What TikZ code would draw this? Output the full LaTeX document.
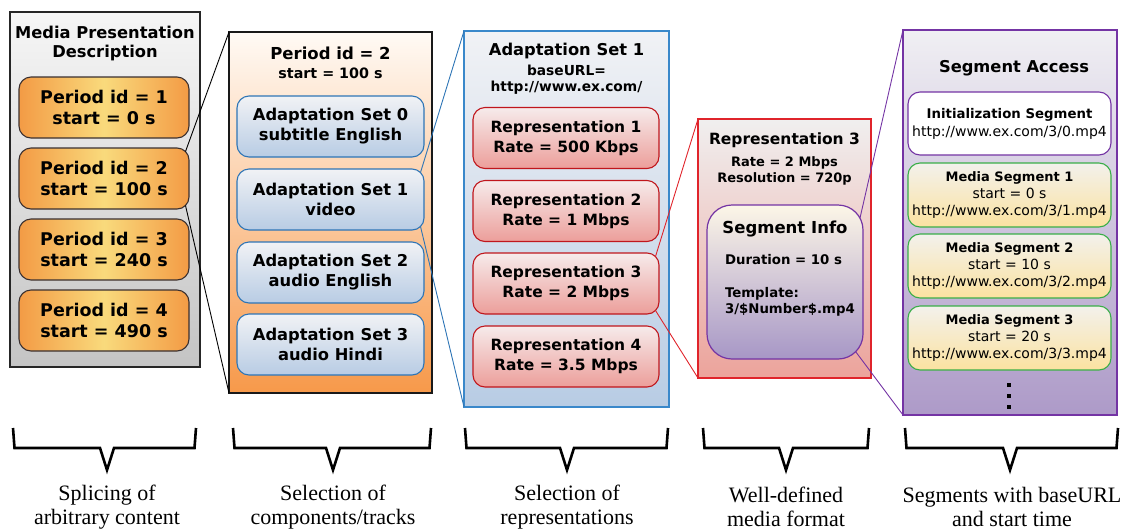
\documentclass[tikz,border=0pt]{standalone}
\usepackage{fontspec}
\setmainfont{DejaVu Sans}
\newfontfamily\captionserif{Liberation Serif}
\usetikzlibrary{calc}

\definecolor{mpdtop}{HTML}{F6F6F6}
\definecolor{mpdbot}{HTML}{C4C4C4}
\definecolor{perEdge}{HTML}{F39B45}
\definecolor{perMid}{HTML}{F9DA7C}
\definecolor{perLine}{HTML}{3A3030}
\definecolor{pbTop}{HTML}{FFFAF5}
\definecolor{pbBot}{HTML}{F7994A}
\definecolor{asTop}{HTML}{F1F2F5}
\definecolor{asBot}{HTML}{B8CCE4}
\definecolor{asLine}{HTML}{2E75B6}
\definecolor{abLine}{HTML}{3A88CA}
\definecolor{repTop}{HTML}{F6EBEB}
\definecolor{repBot}{HTML}{EC9E9A}
\definecolor{repLine}{HTML}{C0161C}
\definecolor{rbTop}{HTML}{F0EFEF}
\definecolor{rbBot}{HTML}{ECA39B}
\definecolor{rbLine}{HTML}{E0242B}
\definecolor{siTop}{HTML}{FCF6E7}
\definecolor{siBot}{HTML}{A797C6}
\definecolor{purp}{HTML}{7434A4}
\definecolor{saTop}{HTML}{F0EFF3}
\definecolor{saBot}{HTML}{AD9AC8}
\definecolor{msTop}{HTML}{F3F1EC}
\definecolor{msBot}{HTML}{FBE2A0}
\definecolor{msLine}{HTML}{3AAE48}

\newcommand{\fsz}[2]{\fontsize{#1}{#2}\selectfont}
% bottom bracket: left x, right x, tip x
\newcommand{\bracket}[3]{%
  \draw[bracketline] (#1,428) -- (#1+1.5,448) -- (#3-7,448) -- (#3,470)
    -- (#3+7,448) -- (#2-1.5,448) -- (#2,428);}

\begin{document}
\begin{tikzpicture}[x=1pt,y=-1pt,
  every node/.style={inner sep=0pt, outer sep=0pt, align=center},
  frame/.style={draw, rectangle, line width=1.3pt},
  period/.style={draw=perLine, line width=1.1pt, rounded corners=12pt,
    left color=perEdge, right color=perEdge, middle color=perMid,
    minimum width=170, minimum height=61, font=\bfseries\fsz{17.5}{21}},
  adset/.style={draw=asLine, line width=1.1pt, rounded corners=12pt,
    top color=asTop, bottom color=asBot,
    minimum width=187, minimum height=61, font=\bfseries\fsz{16.3}{20}},
  repr/.style={draw=repLine, line width=1.1pt, rounded corners=12pt,
    top color=repTop, bottom color=repBot,
    minimum width=186, minimum height=61, font=\bfseries\fsz{15.5}{20}},
  segbox/.style={line width=1.1pt, rounded corners=12pt,
    minimum width=203, minimum height=64, font=\fsz{14}{17}},
  conn/.style={line width=0.9pt},
  bracketline/.style={line width=2.6pt, line join=miter},
  caption/.style={font=\captionserif\fsz{22}{23.5}}]
\useasboundingbox (0,0) rectangle (1133,531);

% ---- Media Presentation Description ----
\node[frame, draw=black!85, top color=mpdtop, bottom color=mpdbot,
  minimum width=190, minimum height=355] (mpd) at (105,189.5) {};
\node[font=\bfseries\fsz{16.3}{19.5}] (mpdtitle) at (105,43.5)
  {Media Presentation\\Description};
\node[period] (per1) at (104,107.5) {Period id = 1\\start = 0 s};
\node[period] (per2) at (104,178.5) {Period id = 2\\start = 100 s};
\node[period] (per3) at (104,249.5) {Period id = 3\\start = 240 s};
\node[period] (per4) at (104,320.5) {Period id = 4\\start = 490 s};

% ---- Period 2 ----
\node[frame, draw=black!90, top color=pbTop, bottom color=pbBot,
  minimum width=203, minimum height=361] (pbox) at (330.5,212.5) {};
\node[font=\bfseries\fsz{16.5}{20}] (pbtitle) at (330.5,53) {Period id = 2};
\node[font=\bfseries\fsz{14.3}{17}] (pbstart) at (330.5,73.5) {start = 100 s};
\node[adset] (as0) at (330.5,126.5) {Adaptation Set 0\\subtitle English};
\node[adset] (as1) at (330.5,199.5) {Adaptation Set 1\\video};
\node[adset] (as2) at (330.5,272.5) {Adaptation Set 2\\audio English};
\node[adset] (as3) at (330.5,344.5) {Adaptation Set 3\\audio Hindi};

% ---- Adaptation Set 1 ----
\node[frame, draw=abLine, top color=asTop, bottom color=asBot,
  minimum width=205, minimum height=376] (abox) at (566.5,219) {};
\node[font=\bfseries\fsz{16.3}{20}] (abtitle) at (566.5,51) {Adaptation Set 1};
\node[font=\bfseries\fsz{13.8}{16.5}] (aburl) at (566.5,79.5)
  {baseURL=\\http://www.ex.com/};
\node[repr] (rep1) at (566,138) {Representation 1\\Rate = 500 Kbps};
\node[repr] (rep2) at (566,211) {Representation 2\\Rate = 1 Mbps};
\node[repr] (rep3) at (566,283.5) {Representation 3\\Rate = 2 Mbps};
\node[repr] (rep4) at (566,356.5) {Representation 4\\Rate = 3.5 Mbps};

% ---- Representation 3 ----
\node[frame, draw=rbLine, top color=rbTop, bottom color=rbBot,
  minimum width=173, minimum height=259] (rbox) at (784.5,248.5) {};
\node[font=\bfseries\fsz{15.5}{19}] (rbtitle) at (784.5,140) {Representation 3};
\node[font=\bfseries\fsz{13}{16}] (rbinfo) at (784.5,171)
  {Rate = 2 Mbps\\Resolution = 720p};
\node[draw=purp, line width=1.2pt, rounded corners=25pt,
  top color=siTop, bottom color=siBot,
  minimum width=156, minimum height=154] (sinfo) at (785,282) {};
\node[font=\bfseries\fsz{16.5}{20}] (sititle) at (785,229.5) {Segment Info};
\node[anchor=west, font=\bfseries\fsz{13.3}{16}] (sidur) at (725,259.5)
  {Duration = 10 s};
\node[anchor=west, align=left, font=\bfseries\fsz{13.3}{16.5}] (sitpl) at (725,302)
  {Template:\\3/\$Number\$.mp4};

% ---- Segment Access ----
\node[frame, draw=purp, top color=saTop, bottom color=saBot,
  minimum width=214, minimum height=385] (sbox) at (1010,222.5) {};
\node[font=\bfseries\fsz{16.3}{19}] (sbtitle) at (1014,68.5) {Segment Access};
\node[segbox, draw=purp, fill=white, minimum height=63] (init) at (1009.5,123.5)
  {{\bfseries\fsz{13.3}{17}Initialization Segment}\\[1pt]http://www.ex.com/3/0.mp4};
\node[segbox, draw=msLine, top color=msTop, bottom color=msBot] (ms1) at (1009.5,195)
  {{\bfseries\fsz{13}{17}Media Segment 1}\\start = 0 s\\http://www.ex.com/3/1.mp4};
\node[segbox, draw=msLine, top color=msTop, bottom color=msBot] (ms2) at (1009.5,266)
  {{\bfseries\fsz{13}{17}Media Segment 2}\\start = 10 s\\http://www.ex.com/3/2.mp4};
\node[segbox, draw=msLine, top color=msTop, bottom color=msBot] (ms3) at (1009.5,338)
  {{\bfseries\fsz{13}{17}Media Segment 3}\\start = 20 s\\http://www.ex.com/3/3.mp4};
% vertical ellipsis
\fill (1007,383) rectangle (1011,387);
\fill (1007,394) rectangle (1011,398);
\fill (1007,405) rectangle (1011,409);

% ---- zoom connectors ----
\draw[conn, black] ([xshift=-3.5pt,yshift=-3.5pt]per2.north east) -- (pbox.north west);
\draw[conn, black] ([xshift=-3.5pt,yshift=3.5pt]per2.south east) -- (pbox.south west);
\draw[conn, asLine] ([xshift=-3.5pt,yshift=-3.5pt]as1.north east) -- (abox.north west);
\draw[conn, asLine] ([xshift=-3.5pt,yshift=3.5pt]as1.south east) -- (abox.south west);
\draw[conn, rbLine] ([xshift=-3.5pt,yshift=-3.5pt]rep3.north east) -- (rbox.north west);
\draw[conn, rbLine] ([xshift=-3.5pt,yshift=3.5pt]rep3.south east) -- (rbox.south west);
\draw[conn, purp] ([xshift=-3pt,yshift=-13pt]sinfo.north east) -- (sbox.north west);
\draw[conn, purp] ([xshift=-7.3pt,yshift=7.3pt]sinfo.south east) -- (sbox.south west);

% ---- brackets and captions ----
\bracket{13}{196}{107}
\bracket{233}{431}{333}
\bracket{465}{668}{567}
\bracket{703}{869}{786}
\bracket{905}{1118}{1010}
\node[caption] (cap1) at (107,507) {Splicing of\\arbitrary content};
\node[caption] (cap2) at (333,507) {Selection of\\components/tracks};
\node[caption] (cap3) at (567,507) {Selection of\\representations};
\node[caption] (cap4) at (786,507) {Well-defined\\media format};
\node[caption] (cap5) at (1012,507) {Segments with baseURL\\and start time};
\end{tikzpicture}
\end{document}
